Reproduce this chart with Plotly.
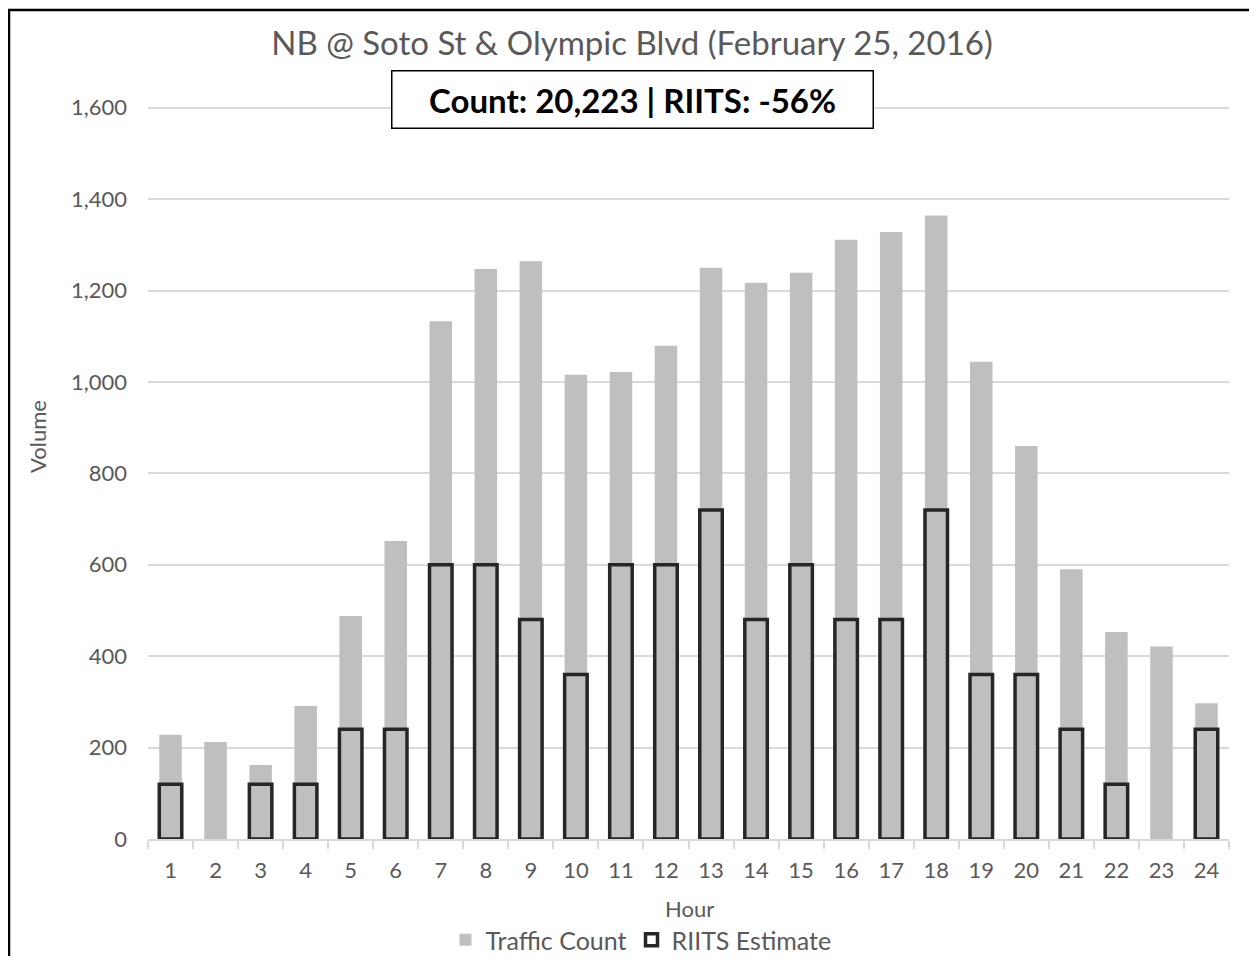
import plotly.graph_objects as go

# %% data
hours = [str(h) for h in range(1, 25)]
traffic_count = [228, 212, 162, 291, 488, 652, 1133, 1247, 1264, 1016, 1022, 1079,
                 1250, 1217, 1239, 1311, 1328, 1364, 1044, 860, 590, 453, 421, 297]
riits_estimate = [120, None, 120, 120, 240, 240, 600, 600, 480, 360, 600, 600,
                  720, 480, 600, 480, 480, 720, 360, 360, 240, 120, None, 240]

title_text = "NB @ Soto St & Olympic Blvd (February 25, 2016)"
box_text = "<b>Count: 20,223 | RIITS: -56%</b>"

font_family = "Lato"
grey_text = "#595959"

# page has an 8px body margin, so the figure is drawn 8px in and 8px down
# (keep the page height inside the 964px window)
W, H = 1249, 948
L, R, T, B = 140, 28, 97, 117
pw, ph = W - L - R, H - T - B

# %% plot
fig = go.Figure()

fig.add_bar(
    x=hours,
    y=traffic_count,
    name="Traffic Count",
    marker=dict(color="#bfbfbf", line=dict(width=0)),
    width=0.5,
)

fig.add_bar(
    x=hours,
    y=riits_estimate,
    name="RIITS Estimate",
    marker=dict(color="rgba(0,0,0,0)", line=dict(color="#262626", width=3.5)),
    width=0.5,
)

fig.update_layout(
    width=W,
    height=H,
    barmode="overlay",
    plot_bgcolor="white",
    paper_bgcolor="white",
    margin=dict(l=L, r=R, t=T, b=B, autoexpand=False),
    font=dict(family=font_family, color=grey_text, size=20),
    title=dict(
        text=title_text,
        x=624 / W,
        xanchor="center",
        y=1 - 35 / H,
        yanchor="middle",
        font=dict(size=33, color=grey_text),
    ),
    showlegend=True,
    legend=dict(
        orientation="h",
        xref="container",
        yref="container",
        x=633 / W,
        xanchor="center",
        y=1 - 932 / H,
        yanchor="middle",
        font=dict(size=25, color=grey_text),
        itemwidth=30,
        traceorder="normal",
    ),
    xaxis=dict(
        type="category",
        automargin=False,
        tickson="boundaries",
        ticks="outside",
        ticklen=8,
        tickcolor="#d9d9d9",
        tickwidth=1.5,
        ticklabelstandoff=11,
        showline=True,
        linecolor="#d9d9d9",
        linewidth=1.5,
        showgrid=False,
        tickfont=dict(size=22, color=grey_text),
    ),
    yaxis=dict(
        automargin=False,
        # a little headroom so the 1,600 gridline is drawn
        range=[0, 1606],
        tickvals=list(range(0, 1601, 200)),
        tickformat=",",
        showgrid=True,
        gridcolor="#d9d9d9",
        gridwidth=1.5,
        zeroline=False,
        ticks="",
        ticklabelstandoff=20,
        tickfont=dict(size=22, color=grey_text),
    ),
)

# axis titles placed as annotations
fig.add_annotation(
    text="Hour",
    xref="paper",
    yref="paper",
    x=(681 - L) / pw,
    y=(T + ph - 900) / ph,
    xanchor="center",
    yanchor="middle",
    showarrow=False,
    font=dict(size=22, color=grey_text, family=font_family),
)

# y axis title sits above the middle of the plot, as in the original
fig.add_annotation(
    text="Volume",
    xref="paper",
    yref="paper",
    x=(29 - L) / pw,
    y=(T + ph - 429) / ph,
    xanchor="center",
    yanchor="middle",
    textangle=-90,
    showarrow=False,
    font=dict(size=22, color=grey_text, family=font_family),
)

# count summary box
fig.add_annotation(
    text=box_text,
    xref="paper",
    yref="paper",
    x=(624 - L) / pw,
    y=(T + ph - 91.5) / ph,
    xanchor="center",
    yanchor="middle",
    showarrow=False,
    font=dict(size=33, color="black", family=font_family),
    bordercolor="black",
    borderwidth=1.5,
    borderpad=8,
    bgcolor="white",
    width=464,
)

# frame around chart (left and top edges)
fig.add_shape(
    type="path",
    xref="paper",
    yref="paper",
    path="M %f %f L %f %f L %f %f" % (
        (1 - L) / pw, (T + ph - 970) / ph,
        (1 - L) / pw, (T + ph - 2) / ph,
        (W + 5 - L) / pw, (T + ph - 2) / ph,
    ),
    line=dict(color="black", width=2.5),
)

fig.write_html("out.html")
